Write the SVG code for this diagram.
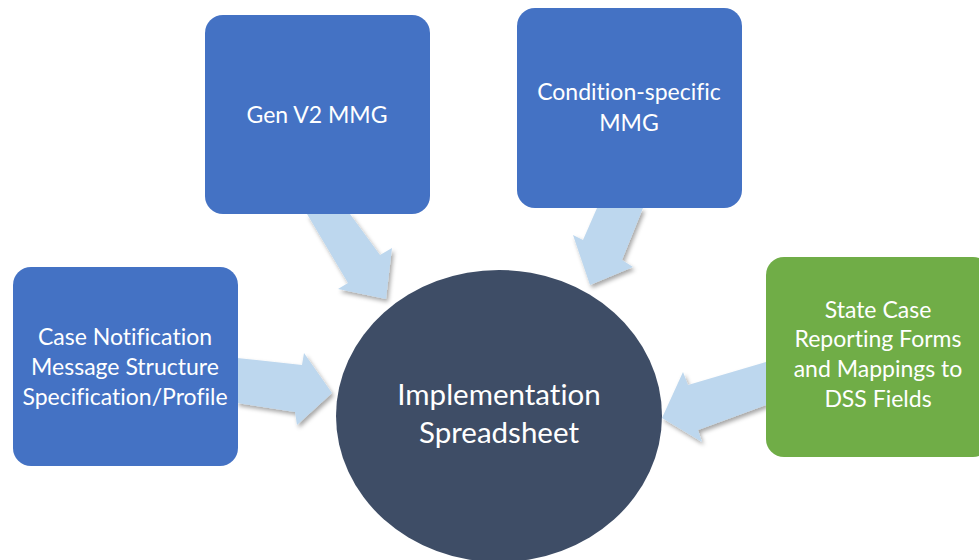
<svg xmlns="http://www.w3.org/2000/svg" width="979" height="560" viewBox="0 0 979 560">
  <defs>
    <filter id="sh" x="-20%" y="-20%" width="150%" height="150%">
      <feDropShadow dx="2" dy="3" stdDeviation="2" flood-color="#000" flood-opacity="0.35"/>
    </filter>
    <style>
      .box { fill: #4472C4; }
      .green { fill: #70AD47; }
      .hub { fill: #3E4D66; }
      .arrow { fill: #BDD7EE; filter: url(#sh); }
      .lbl { font-family: Lato, "Open Sans", "Liberation Sans", sans-serif; font-size: 23px; fill: #FFFFFF; text-anchor: middle; font-variant-ligatures: none; }
      .hubl { font-family: Lato, "Open Sans", "Liberation Sans", sans-serif; font-size: 29.5px; fill: #FFFFFF; text-anchor: middle; font-variant-ligatures: none; }
    </style>
  </defs>
  <rect width="979" height="560" fill="#FFFFFF"/>

  <g id="connectors">
    <polygon class="arrow" points="307,214 350,214 380,255 392,248 386,299 338,289 348,283"/>
    <polygon class="arrow" points="597,208 643,208 622,260 633,267 590,285 573,235 583,240"/>
    <polygon class="arrow" points="237,358 302,365 304,353 332,393 297,425 295,412 237,403"/>
    <polygon class="arrow" points="766,362 688,385 683,372 662,418 702,442 698,430 766,405"/>
  </g>

  <g id="hub">
    <ellipse class="hub" cx="499" cy="416" rx="163" ry="146"/>
    <text class="hubl" x="499" y="405">Implementation</text>
    <text class="hubl" x="499" y="443">Spreadsheet</text>
  </g>

  <g id="gen-v2-mmg">
    <rect class="box" x="205" y="15" width="225" height="199" rx="18"/>
    <text class="lbl" x="317" y="123">Gen V2 MMG</text>
  </g>

  <g id="condition-specific-mmg">
    <rect class="box" x="517" y="8" width="225" height="200" rx="18"/>
    <text class="lbl" x="629" y="100">Condition-specific</text>
    <text class="lbl" x="629" y="131">MMG</text>
  </g>

  <g id="case-notification">
    <rect class="box" x="13" y="267" width="225" height="199" rx="18"/>
    <text class="lbl" x="125" y="345">Case Notification</text>
    <text class="lbl" x="125" y="375">Message Structure</text>
    <text class="lbl" x="125" y="405">Specification/Profile</text>
  </g>

  <g id="state-case">
    <rect class="green" x="766" y="257" width="225" height="200" rx="18"/>
    <text class="lbl" x="878" y="318">State Case</text>
    <text class="lbl" x="878" y="347">Reporting Forms</text>
    <text class="lbl" x="878" y="377">and Mappings to</text>
    <text class="lbl" x="878" y="407">DSS Fields</text>
  </g>
</svg>
